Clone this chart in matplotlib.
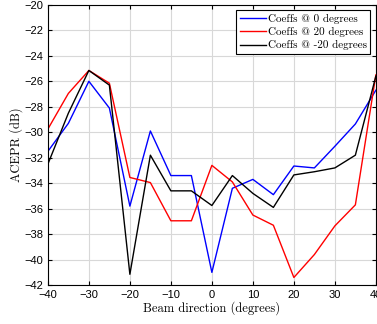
import numpy as np
import matplotlib
matplotlib.use("Agg")
import matplotlib.pyplot as plt

beam = [-40, -35, -30, -25, -20, -15, -10, -5, 0, 5, 10, 15, 20, 25, 30, 35, 40]
acepr_0 = [-31.5, -29.3, -26.0, -28.1, -35.8, -29.9, -33.4, -33.4, -41.0,
           -34.4, -33.7, -34.9, -32.65, -32.8, -31.1, -29.35, -26.7]
acepr_20 = [-29.75, -26.95, -25.15, -26.15, -33.55, -33.95, -36.95, -36.95, -32.6,
            -33.9, -36.5, -37.3, -41.4, -39.6, -37.35, -35.7, -25.5]
acepr_m20 = [-32.5, -28.5, -25.15, -26.3, -41.15, -31.8, -34.6, -34.6, -35.75,
             -33.4, -34.8, -35.9, -33.35, -33.1, -32.8, -31.8, -25.6]

label_font = ['cmr10', 'Liberation Serif']
tick_font = 'Liberation Sans'

fig = plt.figure(figsize=(3.77, 3.24), dpi=100)
ax = fig.add_axes([0.127, 0.12, 0.87, 0.865])

ax.plot(beam, acepr_0, color='blue', lw=1.0, label='Coeffs @ 0 degrees')
ax.plot(beam, acepr_20, color='red', lw=1.0, label='Coeffs @ 20 degrees')
ax.plot(beam, acepr_m20, color='black', lw=1.0, label='Coeffs @ -20 degrees')

ax.set_xlim(-40, 40)
ax.set_ylim(-42, -20)
ax.set_xticks(np.arange(-40, 41, 10))
ax.set_yticks(np.arange(-42, -19, 2))
ax.grid(True, color='#d8d8d8', lw=0.8)
ax.set_axisbelow(True)
ax.tick_params(direction='in', top=True, right=True, labelsize=8, length=3)
for lab in ax.get_xticklabels() + ax.get_yticklabels():
    lab.set_family(tick_font)

ax.set_xlabel('Beam direction (degrees)', family=label_font, fontsize=9, labelpad=1)
ax.set_ylabel('ACEPR (dB)', family=label_font, fontsize=9, labelpad=1)

leg = ax.legend(loc='upper right', fancybox=False, edgecolor='black', framealpha=1,
                prop={'family': label_font, 'size': 8}, handlelength=2.4,
                handletextpad=0.15, borderpad=0.3, labelspacing=0.3,
                borderaxespad=0.5)
leg.get_frame().set_linewidth(0.8)

fig.savefig('out.png', dpi=100)
